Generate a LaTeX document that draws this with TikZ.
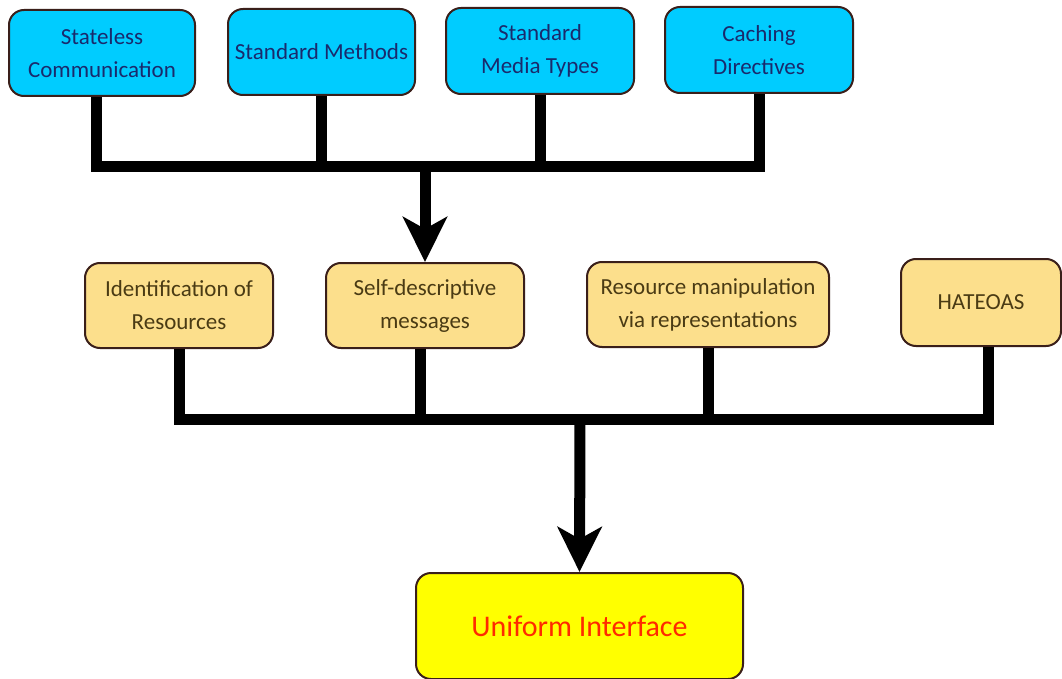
\documentclass[tikz,border=0pt]{standalone}
\usepackage{fontspec}
\setmainfont{Carlito}
\usetikzlibrary{arrows.meta}
\definecolor{cyanfill}{HTML}{00CCFF}
\definecolor{tanfill}{HTML}{FCDF8C}
\definecolor{yelfill}{HTML}{FFFF00}
\definecolor{boxline}{HTML}{3A1F1A}
\definecolor{navytext}{HTML}{1A2A6C}
\definecolor{browntext}{HTML}{4A3B14}
\definecolor{redtext}{HTML}{FF2A00}
\tikzset{
  basebox/.style={draw=boxline, line width=2pt, rounded corners=15pt, align=center, inner sep=0pt,
    font=\fontsize{23}{33}\selectfont},
  topbox/.style={basebox, fill=cyanfill, text=navytext, minimum height=86pt},
  midbox/.style={basebox, fill=tanfill, text=browntext, minimum height=85pt},
  endbox/.style={basebox, fill=yelfill, text=redtext, font=\fontsize{30}{34}\selectfont},
  conn/.style={line width=11pt, line join=miter, draw=black},
  bigarrow/.style={conn, -{Stealth[length=45pt, width=44pt, inset=12pt]}}
}
\begin{document}
\begin{tikzpicture}[x=1pt, y=-1pt]
\useasboundingbox (0,0) rectangle (1062,679);
% top row
\node[topbox, minimum width=186pt] (s1) at (102,53) {Stateless\\Communication};
\node[topbox, minimum width=187pt] (s2) at (321.5,52) {Standard Methods};
\node[topbox, minimum width=188pt] (s3) at (540,51) {Standard\\Media Types};
\node[topbox, minimum width=188pt] (s4) at (759,50) {Caching\\Directives};
% middle row
\node[midbox, minimum width=188pt] (m1) at (179,305.5) {Identification of\\Resources};
\node[midbox, minimum width=198pt] (m2) at (425,305.5) {Self-descriptive\\messages};
\node[midbox, minimum width=242pt] (m3) at (708,304.5) {Resource manipulation\\via representations};
\node[midbox, minimum width=160pt, minimum height=87pt] (m4) at (981,302.5) {HATEOAS};
% bottom
\node[endbox, minimum width=327pt, minimum height=106pt] (u) at (579.5,626) {Uniform Interface};
% bars
\coordinate (barA) at (425,167);
\coordinate (barB) at (580,419);
\draw[conn] ([xshift=-6pt]s1.south) |- (s4.south |- barA) -- (s4.south);
\draw[conn] (s2.south) -- (s2.south |- barA);
\draw[conn] (s3.south) -- (s3.south |- barA);
\draw[bigarrow] (barA) -- (m2.north);
\draw[conn] (m1.south) |- ([xshift=7pt]m4.south |- barB) -- ([xshift=7pt]m4.south);
\draw[conn] ([xshift=-5pt]m2.south) -- ([xshift=-5pt]m2.south |- barB);
\draw[conn] (m3.south) -- (m3.south |- barB);
\draw[bigarrow] (barB) -- (u.north);
\end{tikzpicture}
\end{document}
